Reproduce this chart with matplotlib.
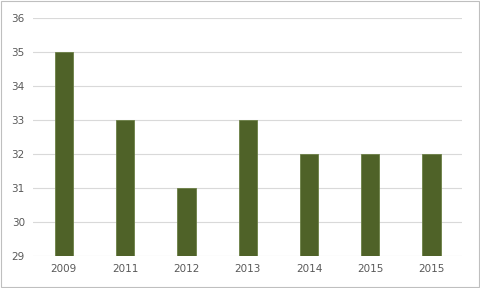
import matplotlib.pyplot as plt
from matplotlib.patches import Rectangle

years = ["2009", "2011", "2012", "2013", "2014", "2015", "2015"]
values = [35, 33, 31, 33, 32, 32, 32]
y_ticks = [29, 30, 31, 32, 33, 34, 35, 36]

fig = plt.figure(figsize=(4.81, 2.88), dpi=100)
ax = fig.add_axes([0.069, 0.111, 0.892, 0.827])

x = range(len(years))
ax.bar(x, [v - 29 for v in values], bottom=29, width=0.3,
       color="#4f6228", edgecolor="#6b7f45", linewidth=0.6, zorder=3)

ax.set_xlim(-0.5, len(years) - 0.5)
ax.set_ylim(29, 36)
ax.set_yticks(y_ticks)
ax.set_xticks(list(x))
ax.set_xticklabels(years)
ax.grid(axis="y", color="#d9d9d9", linewidth=0.8, zorder=0)
for s in ax.spines.values():
    s.set_visible(False)
ax.tick_params(length=0, labelsize=7.5, colors="#595959", pad=6)
ax.tick_params(axis="y", pad=6)

# thin frame round the whole chart
fig.patches.append(Rectangle((0.002, 0.003), 0.994, 0.992, transform=fig.transFigure,
                             fill=False, edgecolor="#bfbfbf", linewidth=0.8))

fig.savefig("out.png", dpi=100)
